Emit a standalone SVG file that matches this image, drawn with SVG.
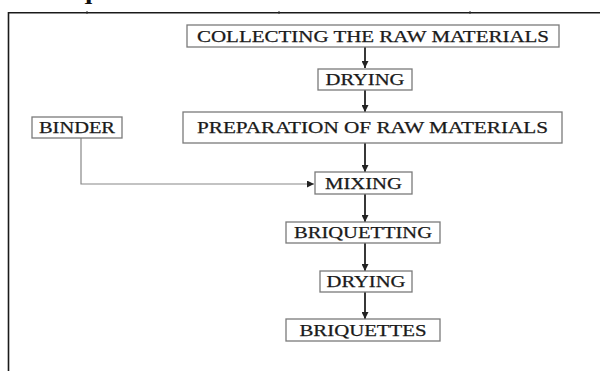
<svg xmlns="http://www.w3.org/2000/svg" width="600" height="371" viewBox="0 0 600 371">
<style>
.box{fill:#fff;stroke:#7a7a7a;stroke-width:1.3}
.lbl{font-family:"Liberation Serif","Times New Roman",serif;font-size:16px;fill:#1a1a1a;stroke:#1a1a1a;stroke-width:0.25;text-anchor:middle}
.conn{stroke:#222;stroke-width:1.8;fill:none}
.thin{stroke:#888;stroke-width:1.2;fill:none}
.frame{stroke:#1a1a1a;stroke-width:1.6;fill:none}
</style>
<defs>
<marker id="ah" viewBox="0 0 8 8" refX="8" refY="4" markerWidth="7" markerHeight="7" markerUnits="userSpaceOnUse" orient="auto">
<path d="M0,0 L8,4 L0,8 Z" fill="#222"/>
</marker>
</defs>
<rect width="600" height="371" fill="#fff"/>
<text x="39" y="-1.5" font-family="'Liberation Serif',serif" font-size="20" font-weight="bold" fill="#111" textLength="122" lengthAdjust="spacingAndGlyphs">Briquettes</text>
<g id="frame">
<path class="frame" d="M8.5,371 V12.8 H600"/>
<path d="M87,11 V14 M279,11 V14 M470,11 V14" stroke="#333" stroke-width="1"/>
</g>
<g id="connectors">
<line class="conn" x1="365" y1="47" x2="365" y2="68" marker-end="url(#ah)"/>
<line class="conn" x1="365" y1="90" x2="365" y2="112" marker-end="url(#ah)"/>
<line class="conn" x1="365" y1="143" x2="365" y2="172" marker-end="url(#ah)"/>
<path class="thin" d="M81,138 V184 H314" marker-end="url(#ah)"/>
<line class="conn" x1="365" y1="194" x2="365" y2="222" marker-end="url(#ah)"/>
<line class="conn" x1="365" y1="243" x2="365" y2="271" marker-end="url(#ah)"/>
<line class="conn" x1="365" y1="292" x2="365" y2="319" marker-end="url(#ah)"/>
</g>
<g id="collecting">
<rect class="box" x="187" y="25" width="372" height="22"/>
<text class="lbl" x="373" y="41.5" textLength="352" lengthAdjust="spacingAndGlyphs">COLLECTING THE RAW MATERIALS</text>
</g>
<g id="drying1">
<rect class="box" x="318" y="69" width="94" height="21"/>
<text class="lbl" x="365" y="85" textLength="79" lengthAdjust="spacingAndGlyphs">DRYING</text>
</g>
<g id="preparation">
<rect class="box" x="183" y="112" width="379" height="31"/>
<text class="lbl" x="372.5" y="133" textLength="351" lengthAdjust="spacingAndGlyphs">PREPARATION OF RAW MATERIALS</text>
</g>
<g id="binder">
<rect class="box" x="32" y="117" width="90" height="21"/>
<text class="lbl" x="77" y="133" textLength="76" lengthAdjust="spacingAndGlyphs">BINDER</text>
</g>
<g id="mixing">
<rect class="box" x="315" y="172" width="97" height="22"/>
<text class="lbl" x="363.5" y="188.5" textLength="77" lengthAdjust="spacingAndGlyphs">MIXING</text>
</g>
<g id="briquetting">
<rect class="box" x="286" y="222" width="154" height="21"/>
<text class="lbl" x="363" y="238" textLength="138" lengthAdjust="spacingAndGlyphs">BRIQUETTING</text>
</g>
<g id="drying2">
<rect class="box" x="320" y="271" width="92" height="21"/>
<text class="lbl" x="366" y="287" textLength="79" lengthAdjust="spacingAndGlyphs">DRYING</text>
</g>
<g id="briquettes">
<rect class="box" x="286" y="319" width="154" height="22"/>
<text class="lbl" x="363" y="335.5" textLength="127" lengthAdjust="spacingAndGlyphs">BRIQUETTES</text>
</g>
</svg>
